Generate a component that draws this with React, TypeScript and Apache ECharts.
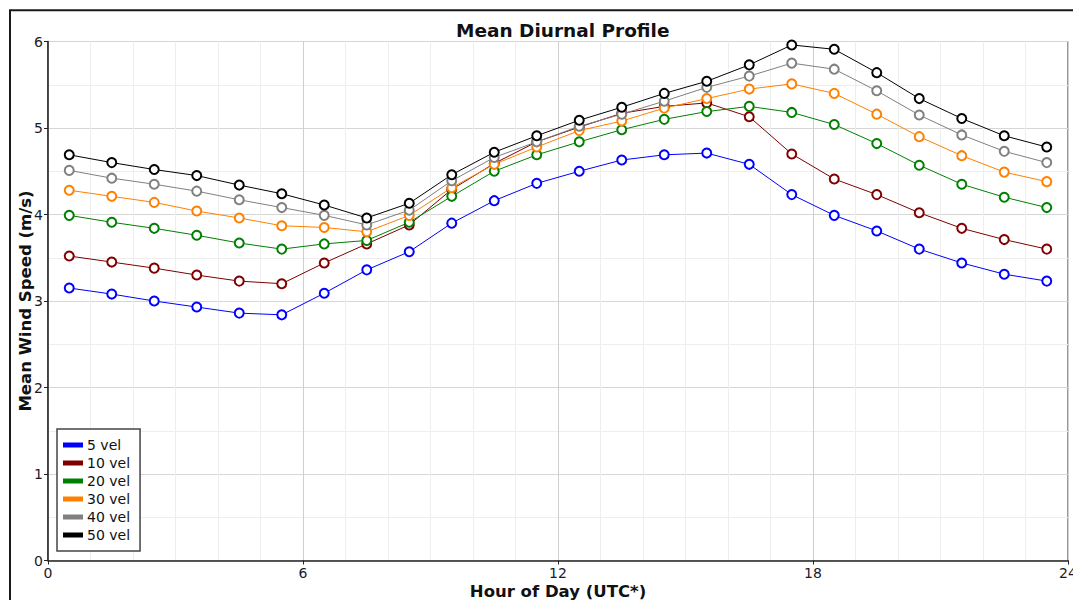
import React, { useEffect, useRef } from "react";
import * as echarts from "echarts";

const hours = [0.5, 1.5, 2.5, 3.5, 4.5, 5.5, 6.5, 7.5, 8.5, 9.5, 10.5, 11.5, 12.5, 13.5, 14.5, 15.5, 16.5, 17.5, 18.5, 19.5, 20.5, 21.5, 22.5, 23.5];
const vel5 = [3.15, 3.08, 3.0, 2.93, 2.86, 2.84, 3.09, 3.36, 3.57, 3.9, 4.16, 4.36, 4.5, 4.63, 4.69, 4.71, 4.58, 4.23, 3.99, 3.81, 3.6, 3.44, 3.31, 3.23];
const vel10 = [3.52, 3.45, 3.38, 3.3, 3.23, 3.2, 3.44, 3.66, 3.88, 4.29, 4.59, 4.84, 5.01, 5.17, 5.25, 5.29, 5.13, 4.7, 4.41, 4.23, 4.02, 3.84, 3.71, 3.6];
const vel20 = [3.99, 3.91, 3.84, 3.76, 3.67, 3.6, 3.66, 3.7, 3.91, 4.21, 4.5, 4.69, 4.84, 4.98, 5.1, 5.19, 5.25, 5.18, 5.04, 4.82, 4.57, 4.35, 4.2, 4.08];
const vel30 = [4.28, 4.21, 4.14, 4.04, 3.96, 3.87, 3.85, 3.8, 3.99, 4.31, 4.58, 4.78, 4.97, 5.08, 5.23, 5.34, 5.45, 5.51, 5.4, 5.16, 4.9, 4.68, 4.49, 4.38];
const vel40 = [4.51, 4.42, 4.35, 4.27, 4.17, 4.08, 3.99, 3.88, 4.05, 4.39, 4.66, 4.84, 5.02, 5.16, 5.31, 5.47, 5.6, 5.75, 5.68, 5.43, 5.15, 4.92, 4.73, 4.6];
const vel50 = [4.69, 4.6, 4.52, 4.45, 4.34, 4.24, 4.11, 3.96, 4.13, 4.46, 4.72, 4.91, 5.09, 5.24, 5.4, 5.54, 5.73, 5.96, 5.91, 5.64, 5.34, 5.11, 4.91, 4.78];

const seriesNames = ["5 vel", "10 vel", "20 vel", "30 vel", "40 vel", "50 vel"];
const seriesValues = [vel5, vel10, vel20, vel30, vel40, vel50];
const seriesColors = ["#0000ff", "#800000", "#008000", "#ff8000", "#808080", "#000000"];

const FONT = "DejaVu Sans";

export default function App() {
  const ref = useRef<HTMLDivElement>(null);
  useEffect(() => {
    if (!ref.current) return;
    const chart = echarts.init(ref.current, null, { renderer: "svg" });
    chart.setOption({
      animation: false,
      backgroundColor: "#ffffff",
      title: {
        text: "Mean Diurnal Profile",
        left: 451,
        top: 16,
        textStyle: { fontFamily: FONT, fontSize: 18.5, fontWeight: "bold", color: "#111" },
      },
      graphic: [
        {
          type: "rect",
          shape: { x: 10, y: 10.3, width: 2000, height: 2000 },
          style: { fill: "none", stroke: "#1a1a1a", lineWidth: 2 },
          silent: true,
        },
      ],
      legend: {
        orient: "vertical",
        left: 57,
        top: 429,
        icon: "rect",
        itemWidth: 18,
        itemHeight: 3,
        itemGap: 0,
        padding: [7, 10, 7, 6],
        borderColor: "#444",
        borderWidth: 1.5,
        backgroundColor: "#fff",
        textStyle: { fontFamily: FONT, fontSize: 14, color: "#111", lineHeight: 18 },
        data: seriesNames,
      },
      grid: {
        left: 48,
        top: 41.5,
        width: 1020,
        height: 519,
        outerBoundsMode: "none",
        containLabel: false,
        show: true,
        borderColor: "#333",
        borderWidth: 1,
      },
      xAxis: {
        type: "value",
        min: 0,
        max: 24,
        interval: 6,
        name: "Hour of Day (UTC*)",
        nameLocation: "middle",
        nameGap: 22,
        nameMoveOverlap: false,
        nameTextStyle: { fontFamily: FONT, fontSize: 16.5, fontWeight: "bold", color: "#111" },
        axisLine: { show: true, lineStyle: { color: "#222", width: 1.5 } },
        axisTick: { show: true, length: 4, lineStyle: { color: "#222" } },
        axisLabel: { fontFamily: FONT, fontSize: 14, color: "#1a1a2a", margin: 5 },
        splitLine: { show: true, lineStyle: { color: "#cfcfcf", width: 1 } },
        minorTick: { show: false, splitNumber: 6 },
        minorSplitLine: { show: true, lineStyle: { color: "#eeeeee", width: 1 } },
      },
      yAxis: {
        type: "value",
        min: 0,
        max: 6,
        interval: 1,
        name: "Mean Wind Speed (m/s)",
        nameLocation: "middle",
        nameGap: 14,
        nameMoveOverlap: false,
        nameTextStyle: { fontFamily: FONT, fontSize: 16.5, fontWeight: "bold", color: "#111" },
        axisLine: { show: true, lineStyle: { color: "#222", width: 1.5 } },
        axisTick: { show: true, length: 4, lineStyle: { color: "#222" } },
        axisLabel: { fontFamily: FONT, fontSize: 14, color: "#1a1a2a", margin: 5 },
        splitLine: { show: true, lineStyle: { color: "#d6d6d6", width: 1 } },
        minorTick: { show: false, splitNumber: 2 },
        minorSplitLine: { show: true, lineStyle: { color: "#eeeeee", width: 1 } },
      },
      series: seriesNames.map((name, i) => ({
        name,
        type: "line",
        data: hours.map((h, j) => [h, seriesValues[i][j]]),
        symbol: "emptyCircle",
        symbolSize: 9,
        showSymbol: true,
        color: seriesColors[i],
        lineStyle: { color: seriesColors[i], width: 1 },
        itemStyle: { color: seriesColors[i], borderColor: seriesColors[i], borderWidth: 1 },
        emphasis: { disabled: true },
      })),
    });
    return () => chart.dispose();
  }, []);
  return (
    <div
      ref={ref}
      style={{ position: "fixed", left: 0, top: 0, width: 1073, height: 600 }}
    />
  );
}
